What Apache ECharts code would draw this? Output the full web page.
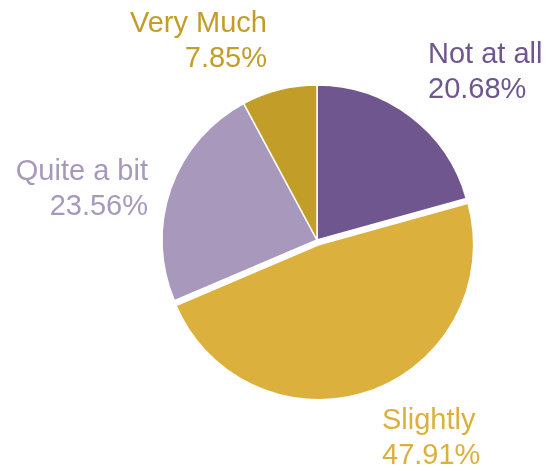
<!DOCTYPE html>
<html><head><meta charset="utf-8">
<script src="https://cdn.jsdelivr.net/npm/echarts@6/dist/echarts.min.js"></script>
<style>html,body{margin:0;padding:0;background:#fff}#c{width:548px;height:471px}</style>
</head><body><div id="c"></div>
<script>
var categories = ['Not at all', 'Slightly', 'Quite a bit', 'Very Much'];
var values = [20.68, 47.91, 23.56, 7.85];
var labelTexts = ['20.68%', '47.91%', '23.56%', '7.85%'];
var colors = ['#6f568f', '#dbb03c', '#a898bb', '#c29e28'];
var labelSpots = [
  {x: 428, y: 37, align: 'left'},
  {x: 382, y: 403, align: 'left'},
  {x: 148, y: 154, align: 'right'},
  {x: 267, y: 6, align: 'right'}
];
var chart = echarts.init(document.getElementById('c'), null, {renderer: 'canvas'});
var pieData = categories.map(function (c, i) {
  return {name: c, value: values[i], selected: i === 1, itemStyle: {color: colors[i]}};
});
var labelData = categories.map(function (c, i) {
  return {
    name: c, value: values[i],
    label: {color: colors[i], formatter: c + '\n' + labelTexts[i], align: labelSpots[i].align}
  };
});
chart.setOption({
  animation: false,
  series: [{
    type: 'pie',
    center: [317, 240],
    radius: [0, 155],
    startAngle: 90,
    clockwise: true,
    selectedMode: 'single',
    selectedOffset: 5,
    silent: true,
    itemStyle: {borderColor: '#ffffff', borderWidth: 1.5},
    label: {show: false},
    labelLine: {show: false},
    data: pieData
  }, {
    type: 'pie',
    center: [317, 240],
    radius: [0, 155],
    startAngle: 90,
    clockwise: true,
    selectedMode: false,
    silent: true,
    z: 3,
    itemStyle: {color: 'rgba(0,0,0,0)', borderWidth: 0},
    label: {show: true, position: 'inside', overflow: 'none', fontFamily: 'Liberation Sans, Arial, sans-serif', fontSize: 29, lineHeight: 35},
    labelLine: {show: false},
    labelLayout: function (p) {
      var s = labelSpots[p.dataIndex];
      return {x: s.x, y: s.y, align: s.align, verticalAlign: 'top'};
    },
    data: labelData
  }]
});
</script></body></html>
